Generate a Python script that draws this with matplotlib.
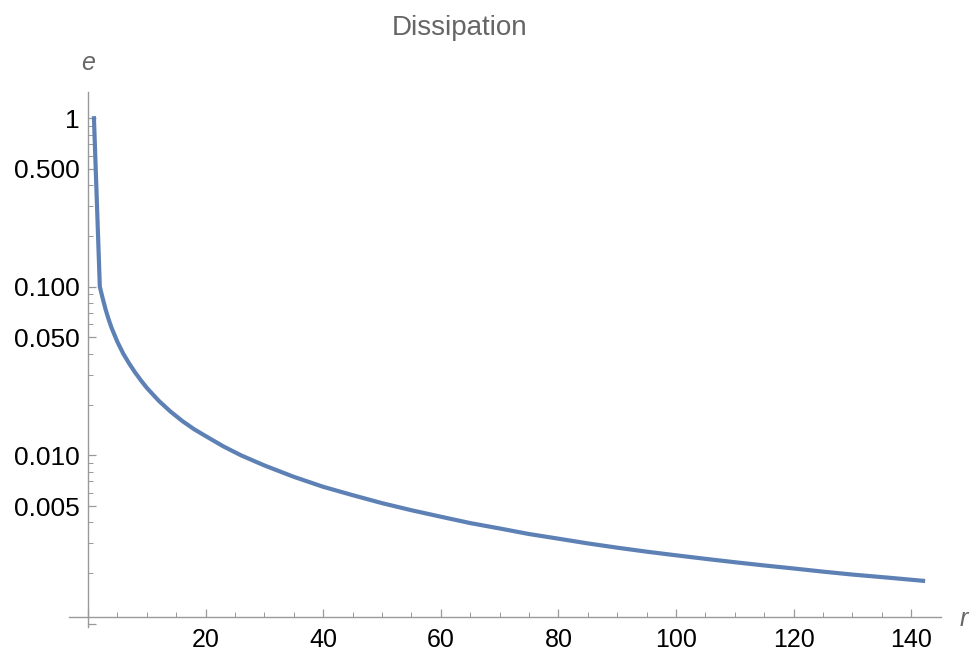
import matplotlib
matplotlib.use('Agg')
import matplotlib.pyplot as plt
from matplotlib.ticker import FixedLocator, FixedFormatter, NullFormatter

plt.rcParams['font.family'] = ['Liberation Sans', 'DejaVu Sans']

# values
r = [1, 2, 2.5, 3, 3.5, 4, 5, 6, 7, 8, 9, 10, 12, 14, 16, 18, 20, 23, 26,
     30, 35, 40, 45, 50, 55, 60, 65, 70, 75, 80, 85, 90, 95, 100, 105,
     110, 115, 120, 125, 130, 136, 142]
e = [1.0, 0.1, 0.085, 0.073, 0.064, 0.057, 0.047, 0.040, 0.035, 0.031,
     0.0278, 0.0251, 0.0211, 0.0182, 0.0160, 0.0143, 0.0130, 0.0113,
     0.0100, 0.0087, 0.00745, 0.0065, 0.0058, 0.0052, 0.00472, 0.00432,
     0.00396, 0.00368, 0.00341, 0.0032, 0.0030, 0.00283, 0.00268, 0.00255,
     0.00243, 0.00232, 0.00222, 0.00213, 0.00204, 0.00196, 0.00188, 0.0018]

y_major = [0.001, 0.005, 0.01, 0.05, 0.1, 0.5, 1]
y_major_labels = ['', '0.005', '0.010', '0.050', '0.100', '0.500', '1']
y_minor = [0.002, 0.003, 0.004, 0.006, 0.007, 0.008, 0.009,
           0.02, 0.03, 0.04, 0.06, 0.07, 0.08, 0.09,
           0.2, 0.3, 0.4, 0.6, 0.7, 0.8, 0.9]
x_major = [0, 20, 40, 60, 80, 100, 120, 140]
x_major_labels = ['', '20', '40', '60', '80', '100', '120', '140']
x_minor = [5, 10, 15, 25, 30, 35, 45, 50, 55, 65, 70, 75, 85, 90, 95,
           105, 110, 115, 125, 130, 135]

LINE = '#5E81B5'
AXIS = '#999999'
GREY = '#666666'

fig = plt.figure(figsize=(9.74, 6.6), dpi=100)
ax = fig.add_axes([0.0711, 0.0497, 0.8947, 0.811])
ax.plot(r, e, color=LINE, lw=3, solid_joinstyle='round')

ax.set_yscale('log')
ax.set_xlim(-3.2, 145)
ax.set_ylim(10 ** -3.02, 10 ** 0.156)

# mathematica-style axes crossing near the origin
ax.spines['top'].set_visible(False)
ax.spines['right'].set_visible(False)
ax.spines['left'].set_position(('data', 0))
ax.spines['bottom'].set_position(('data', 0.001097))
for s in ('left', 'bottom'):
    ax.spines[s].set_color(AXIS)
    ax.spines[s].set_linewidth(1.0)

ax.yaxis.set_major_locator(FixedLocator(y_major))
ax.yaxis.set_major_formatter(FixedFormatter(y_major_labels))
ax.yaxis.set_minor_locator(FixedLocator(y_minor))
ax.yaxis.set_minor_formatter(NullFormatter())
ax.xaxis.set_major_locator(FixedLocator(x_major))
ax.xaxis.set_major_formatter(FixedFormatter(x_major_labels))
ax.xaxis.set_minor_locator(FixedLocator(x_minor))

ax.tick_params(axis='both', which='major', direction='in', length=6,
               width=0.9, color=AXIS, labelsize=18, labelcolor='black')
ax.tick_params(axis='both', which='minor', direction='in', length=3.5,
               width=0.7, color=AXIS)
ax.tick_params(axis='y', which='major', pad=6, labelsize=19)
ax.tick_params(axis='x', which='major', pad=8)

fig.text(460 / 974, 1 - 35 / 660, 'Dissipation', fontsize=20, color=GREY,
         ha='center', va='baseline')
fig.text(88 / 974, 1 - 63 / 660, 'e', fontsize=18, color=GREY,
         style='italic', ha='center', va='center')
fig.text(964 / 974, 1 - 619 / 660, 'r', fontsize=18, color=GREY,
         style='italic', ha='center', va='center')

fig.savefig('out.png', dpi=100)
